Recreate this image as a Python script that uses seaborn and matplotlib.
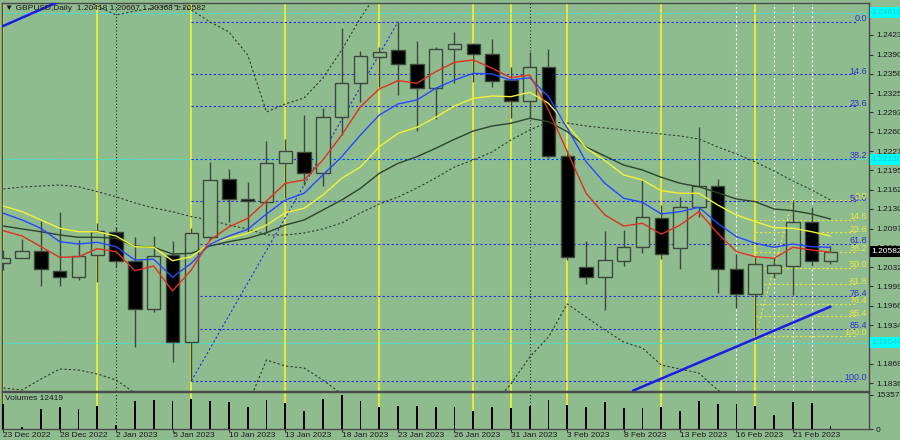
import numpy as np
import pandas as pd
import seaborn as sns
import matplotlib.pyplot as plt
import matplotlib.transforms as mtransforms

# daily bars, 23 Dec 2022 .. 23 Feb 2023
bar_idx = np.arange(45)
tick_bars = [0, 3, 6, 9, 12, 15, 18, 21, 24, 27, 30, 33, 36, 39, 42]
tick_labels = ['23 Dec 2022', '28 Dec 2022', '2 Jan 2023', '5 Jan 2023', '10 Jan 2023',
               '13 Jan 2023', '18 Jan 2023', '23 Jan 2023', '26 Jan 2023', '31 Jan 2023',
               '3 Feb 2023', '8 Feb 2023', '13 Feb 2023', '16 Feb 2023', '21 Feb 2023']

opens = [1.20388, 1.20478, 1.20596, 1.20258, 1.20147, 1.20518, 1.20906, 1.20422, 1.19612, 1.20518,
         1.19061, 1.20822, 1.21800, 1.21463, 1.21422, 1.22070, 1.22266, 1.21912, 1.22846, 1.23420,
         1.23868, 1.23982, 1.23745, 1.23335, 1.23993, 1.24078, 1.23914, 1.23475, 1.23126, 1.23690,
         1.22198, 1.20316, 1.20147, 1.20427, 1.20663, 1.21152, 1.20646, 1.21338, 1.21692, 1.20282,
         1.19860, 1.20225, 1.20343, 1.21075, 1.20418]
highs = [1.20607, 1.20793, 1.21102, 1.21249, 1.20776, 1.21063, 1.21001, 1.20832, 1.20849, 1.20764,
         1.20974, 1.22087, 1.21969, 1.21760, 1.22451, 1.22475, 1.22885, 1.22998, 1.24348, 1.23970,
         1.24037, 1.24459, 1.24133, 1.24037, 1.24290, 1.24100, 1.24167, 1.23700, 1.23943, 1.23993,
         1.22295, 1.20760, 1.20933, 1.20945, 1.21800, 1.21367, 1.21497, 1.22688, 1.21800, 1.20540,
         1.20484, 1.20467, 1.21451, 1.21338, 1.20667]
lows = [1.20270, 1.20473, 1.20000, 1.20000, 1.20101, 1.20073, 1.20326, 1.18976, 1.19567, 1.18723,
        1.18398, 1.20776, 1.21085, 1.20916, 1.20889, 1.21485, 1.21704, 1.21687, 1.22548, 1.23109,
        1.23352, 1.23222, 1.22620, 1.22817, 1.23430, 1.23437, 1.23352, 1.22829, 1.22834, 1.22160,
        1.20439, 1.20034, 1.19595, 1.20338, 1.20552, 1.20456, 1.20287, 1.21159, 1.19877, 1.19634,
        1.19157, 1.20130, 1.19848, 1.20338, 1.20368]
closes = [1.20473, 1.20591, 1.20282, 1.20152, 1.20506, 1.20928, 1.20422, 1.19612, 1.20506, 1.19061,
          1.20889, 1.21788, 1.21463, 1.21434, 1.22070, 1.22283, 1.21912, 1.22856, 1.23420, 1.23880,
          1.23943, 1.23745, 1.23345, 1.23993, 1.24078, 1.23914, 1.23464, 1.23126, 1.23690, 1.22198,
          1.20484, 1.20147, 1.20439, 1.20663, 1.21159, 1.20535, 1.21338, 1.21692, 1.20282, 1.19860,
          1.20366, 1.20355, 1.21075, 1.20422, 1.20582]
volumes = [112700, 10000, 90800, 100900, 90800, 105300, 17500, 127200, 130300, 124200,
           134700, 127200, 122800, 97800, 132900, 118400, 83400, 134700, 153575, 124200,
           100900, 105300, 102200, 97800, 100900, 83400, 97800, 95200, 102200, 130300,
           109700, 100900, 119800, 95200, 95200, 100900, 83400, 124200, 112700, 112700,
           105300, 61400, 122800, 115400, 12419]

ma_red = [1.20933, 1.20844, 1.20663, 1.20484, 1.20494, 1.20629, 1.20579, 1.20258, 1.20338, 1.19916,
          1.20270, 1.20776, 1.20996, 1.21142, 1.21434, 1.21733, 1.21788, 1.22126, 1.22548, 1.23025,
          1.23324, 1.23464, 1.23420, 1.23615, 1.23774, 1.23813, 1.23673, 1.23514, 1.23560, 1.22969,
          1.22266, 1.21564, 1.21198, 1.21012, 1.21058, 1.20872, 1.21029, 1.21254, 1.20889, 1.20579,
          1.20494, 1.20467, 1.20653, 1.20607, 1.20569]
ma_blue = [1.21227, 1.21114, 1.20974, 1.20748, 1.20709, 1.20737, 1.20663, 1.20439, 1.20451, 1.20147,
           1.20383, 1.20709, 1.20844, 1.20957, 1.21215, 1.21451, 1.21564, 1.21873, 1.22181, 1.22548,
           1.22885, 1.23071, 1.23138, 1.23335, 1.23475, 1.23588, 1.23577, 1.23475, 1.23514, 1.23194,
           1.22661, 1.22097, 1.21733, 1.21480, 1.21412, 1.21215, 1.21254, 1.21328, 1.21058, 1.20832,
           1.20721, 1.20653, 1.20709, 1.20663, 1.20653]
ma_yellow = [1.21350, 1.21254, 1.21114, 1.20974, 1.20916, 1.20916, 1.20844, 1.20663, 1.20653, 1.20427,
             1.20494, 1.20726, 1.20805, 1.20889, 1.21029, 1.21237, 1.21311, 1.21535, 1.21817, 1.22008,
             1.22350, 1.22576, 1.22677, 1.22846, 1.23037, 1.23167, 1.23205, 1.23194, 1.23268, 1.23082,
             1.22716, 1.22328, 1.22114, 1.21873, 1.21788, 1.21608, 1.21564, 1.21564, 1.21367, 1.21198,
             1.21085, 1.20984, 1.20974, 1.20916, 1.20844]
ma_dark = [1.21012, 1.20962, 1.20916, 1.20861, 1.20822, 1.20822, 1.20805, 1.20675, 1.20653, 1.20540,
           1.20552, 1.20675, 1.20748, 1.20805, 1.20899, 1.21029, 1.21114, 1.21282, 1.21451, 1.21648,
           1.21901, 1.22070, 1.22181, 1.22323, 1.22475, 1.22615, 1.22699, 1.22745, 1.22829, 1.22772,
           1.22603, 1.22345, 1.22193, 1.22041, 1.21957, 1.21834, 1.21733, 1.21675, 1.21574, 1.21468,
           1.21422, 1.21299, 1.21271, 1.21215, 1.21130]
bb_mid = [1.21637, 1.21670, 1.21687, 1.21704, 1.21675, 1.21591, 1.21507, 1.21400, 1.21316, 1.21254,
          1.21169, 1.21114, 1.21029, 1.20962, 1.20861, 1.20861, 1.20894, 1.20962, 1.21063, 1.21232,
          1.21384, 1.21502, 1.21653, 1.21822, 1.22008, 1.22126, 1.22261, 1.22463, 1.22632, 1.22767,
          1.22750, 1.22699, 1.22666, 1.22632, 1.22598, 1.22564, 1.22531, 1.22480, 1.22345, 1.22227,
          1.22092, 1.21940, 1.21772, 1.21620, 1.21451]
bb_up = [1.24994, 1.25095, 1.24960, 1.24876, 1.24859, 1.24724, 1.24572, 1.24639, 1.24690, 1.24740,
         1.24656, 1.24454, 1.24285, 1.23897, 1.22936, 1.23071, 1.23172, 1.23509, 1.23982, 1.24521,
         1.24994, 1.25500, 1.25837, 1.26006, 1.26175, 1.26260, 1.26343, 1.26428, 1.26461, 1.26400,
         1.25800, 1.25900, 1.26070, 1.26200, 1.26250, 1.26460, 1.26460, 1.26430, 1.26440, 1.26380,
         1.26190, 1.26000, 1.25700, 1.25400, 1.25100]
bb_lo = [1.18279, 1.18246, 1.18431, 1.18600, 1.18583, 1.18516, 1.18414, 1.18195, 1.17942, 1.17773,
         1.17689, 1.17773, 1.17773, 1.17993, 1.18752, 1.18651, 1.18617, 1.18414, 1.18178, 1.17875,
         1.17740, 1.17655, 1.17571, 1.17537, 1.17571, 1.17655, 1.17993, 1.18347, 1.18802, 1.19140,
         1.19697, 1.19477, 1.19258, 1.19055, 1.18954, 1.18667, 1.18600, 1.18532, 1.18246, 1.18077,
         1.17993, 1.17993, 1.18043, 1.18077, 1.18111]

fib_levels = [0.0, 14.6, 23.6, 38.2, 50.0, 61.8, 76.4, 85.4, 100.0]
blue_fib = {'bar_low': 10, 'low': 1.18398, 'bar_high': 21, 'high': 1.24459}
yellow_fib = {'bar_low': 40, 'low': 1.19157, 'bar_high': 42, 'high': 1.21451}

yellow_vlines = [0, 5, 10, 15, 20, 25, 27, 30, 35, 40]
black_vlines = [6, 28]
white_vlines = [39, 41, 42, 43]
cyan_levels = [1.24611, 1.22138, 1.19044]

trend_low = ([33.5, 44.0], [1.18235, 1.19652])
trend_high = ([-0.2, 2.9], [1.24360, 1.24790])

price_ticks = [1.24235, 1.23905, 1.23580, 1.23255, 1.22930, 1.22600, 1.22275, 1.21950, 1.21625,
               1.21300, 1.20970, 1.20645, 1.20320, 1.19995, 1.19665, 1.19340, 1.18690, 1.18360]

BG = '#8fbc8f'
EDGE = '#3c483c'
sns.set_style('white', {'axes.facecolor': BG, 'figure.facecolor': BG})
plt.rcParams['font.family'] = ['Liberation Sans', 'DejaVu Sans']

W, H = 900, 440
fig = plt.figure(figsize=(9, 4.4), dpi=100)
ax = fig.add_axes([2 / W, (H - 391) / H, 867 / W, 388 / H])
axv = fig.add_axes([2 / W, (H - 429) / H, 867 / W, 37 / H])
XLIM = (-0.07, 46.05)

# vertical separators
for a in (ax, axv):
    for b in yellow_vlines:
        a.axvline(b, color='#e8e83a', lw=1.4, zorder=1)
    for b in black_vlines:
        a.axvline(b, color='#1e2a1e', lw=0.8, ls=(0, (1, 2)), zorder=1)
for b in white_vlines:
    ax.axvline(b, color='#f4f4f4', lw=0.8, ls=(0, (2, 2)), zorder=1)

for lv in cyan_levels:
    ax.axhline(lv, color='#30e8e0', lw=0.8, ls=(0, (3, 2)), zorder=1)

# fibonacci retracements
up_off = mtransforms.offset_copy(ax.transData, fig=fig, x=0, y=3, units='dots')
for fib, col, lab_col in ((blue_fib, '#2a2ae0', '#3030d0'), (yellow_fib, '#e6e640', '#eaea40')):
    rng = fib['high'] - fib['low']
    for lv in fib_levels:
        p = fib['high'] - rng * lv / 100.0
        ax.hlines(p, fib['bar_low'], 45.4, color=col, lw=0.8, ls=(0, (2, 2)), zorder=1.5)
        ax.text(45.95, p, f'{lv:.1f}', color=lab_col, fontsize=6.5, ha='right', va='center',
                transform=up_off, zorder=6)
    ax.plot([fib['bar_low'], fib['bar_high']], [fib['low'], fib['high']], color=col,
            lw=0.8, ls=(0, (2, 2)), zorder=1.5)

# bollinger bands
for band in (bb_up, bb_mid, bb_lo):
    sns.lineplot(x=bar_idx, y=band, ax=ax, color='#2e3a2e', lw=0.8, ls=(0, (2, 2)), zorder=2)

# candles
df = pd.DataFrame({'bar': bar_idx, 'open': opens, 'high': highs, 'low': lows, 'close': closes})
up = df['close'] >= df['open']
ax.vlines(df['bar'], df['low'], df['high'], color=EDGE, lw=1.0, zorder=3)
ax.bar(df['bar'][up], (df['close'] - df['open'])[up], bottom=df['open'][up], width=0.72,
       facecolor=BG, edgecolor=EDGE, lw=1.0, zorder=4)
ax.bar(df['bar'][~up], (df['open'] - df['close'])[~up], bottom=df['close'][~up], width=0.72,
       facecolor='black', edgecolor=EDGE, lw=1.0, zorder=4)

# moving averages
for ma, col in ((ma_dark, '#2c452c'), (ma_yellow, '#f2f236'), (ma_blue, '#2846ff'), (ma_red, '#e03020')):
    sns.lineplot(x=bar_idx, y=ma, ax=ax, color=col, lw=1.0, zorder=5)

# trend lines
for tl in (trend_low, trend_high):
    ax.plot(tl[0], tl[1], color='#1c1ce6', lw=1.8, zorder=5)

ax.set_xlim(*XLIM)
ax.set_ylim(1.18229, 1.24774)
ax.yaxis.tick_right()
ax.set_yticks(price_ticks)
ax.set_yticklabels([f'{p:.5f}' for p in price_ticks])
ax.tick_params(axis='y', labelsize=6, length=3, width=0.8, color='#303030', pad=2,
               labelcolor='#1a1a1a', right=True, left=False)
ax.tick_params(axis='x', bottom=False, labelbottom=False)
ax.set_xlabel('')
ax.set_ylabel('')

# axis price markers
ytr = ax.get_yaxis_transform()
for lv in cyan_levels:
    ax.text(1.003, lv, f'{lv:.5f}', transform=ytr, fontsize=6, color='#20c8c8', va='center',
            ha='left', bbox=dict(boxstyle='square,pad=0.25', fc='#00ffff', ec='none'), clip_on=False)
ax.text(1.003, closes[-1], f'{closes[-1]:.5f}', transform=ytr, fontsize=6, color='white',
        va='center', ha='left', bbox=dict(boxstyle='square,pad=0.25', fc='black', ec='none'),
        clip_on=False)

# volumes
sns.barplot(x=bar_idx, y=volumes, ax=axv, color='black', width=0.09, native_scale=True,
            saturation=1, linewidth=0, zorder=3)
axv.set_xlim(*XLIM)
axv.set_ylim(0, 167000)
axv.yaxis.tick_right()
axv.set_yticks([0, 153575])
axv.set_yticklabels(['0', '153575'])
axv.tick_params(axis='y', labelsize=6, length=3, width=0.8, color='#303030', pad=2,
                labelcolor='#1a1a1a', right=True, left=False)
axv.set_xticks(tick_bars)
axv.set_xticklabels(tick_labels, ha='left')
axv.tick_params(axis='x', labelsize=6, length=2, width=0.8, color='#303030', pad=0.5,
                labelcolor='#1a1a1a', bottom=True)
axv.set_xlabel('')
axv.set_ylabel('')

for a in (ax, axv):
    for s in a.spines.values():
        s.set_color('#4a4a4a')
        s.set_linewidth(1.0)

fig.text(5 / W, 1 - 8 / H, '\u25bc GBPUSD,Daily  1.20418 1.20667 1.20368 1.20582', fontsize=6,
         color='#1a1a1a', va='center', ha='left')
fig.text(5 / W, 1 - 398 / H, f'Volumes {volumes[-1]}', fontsize=6, color='#1a1a1a',
         va='center', ha='left')

fig.savefig('out.png', dpi=100, facecolor=BG)
